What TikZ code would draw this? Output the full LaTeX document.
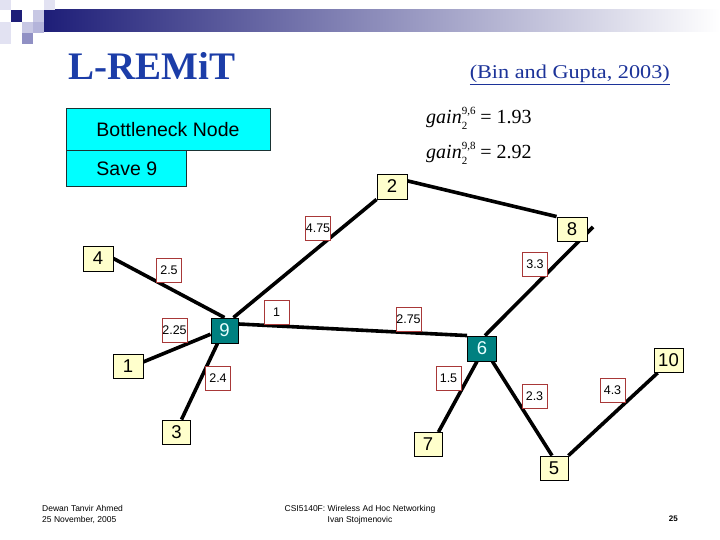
\documentclass[tikz,border=0pt]{standalone}
\usepackage{fontspec}
\usepackage{graphicx}
\setmainfont{Liberation Sans}
\newfontfamily\seriffont{Liberation Serif}
\usetikzlibrary{calc,backgrounds}
\pgfdeclarelayer{back}
\pgfsetlayers{back,background,main}
\definecolor{navy}{HTML}{1E1E78}
\definecolor{nodeyellow}{HTML}{FFFFCC}
\definecolor{tealnode}{HTML}{008080}
\definecolor{nodetext}{HTML}{E8FFFF}
\definecolor{labred}{HTML}{A83838}
\definecolor{boxcyan}{HTML}{00FFFF}
\definecolor{boxborder}{HTML}{1A3333}
\definecolor{titleblue}{HTML}{1C3DA8}
\definecolor{citeblue}{HTML}{1C3399}
\definecolor{sqA}{HTML}{E2E2F2}
\definecolor{sqB}{HTML}{C8C8E4}
\definecolor{sqC}{HTML}{B4B4DA}
\definecolor{sqD}{HTML}{9090C4}
\newcommand\gainexpr[2]{{\itshape gain}\rlap{\raisebox{9pt}{\fontsize{11}{11}\selectfont #1}}\raisebox{-6pt}{\fontsize{11}{11}\selectfont 2}\hspace{13pt}= #2}
\begin{document}
\begin{tikzpicture}[x=1pt,y=-1pt,
  ynode/.style={draw=black,line width=0.9pt,fill=nodeyellow,minimum width=29pt,minimum height=24pt,inner sep=0pt,font=\fontsize{18.5}{18.5}\selectfont},
  tnode/.style={ynode,fill=tealnode,text=nodetext},
  wlab/.style={draw=labred,line width=0.8pt,fill=white,minimum width=25pt,minimum height=24pt,inner sep=0pt,font=\fontsize{12.5}{13}\selectfont},
  conn/.style={line width=3.6pt,black},
  cbox/.style={draw=boxborder,line width=0.9pt,fill=boxcyan,inner sep=0pt,anchor=north west,font=\fontsize{19.5}{20}\selectfont},
  foot/.style={inner sep=0pt,font=\fontsize{8.5}{11}\selectfont}]
\begin{pgfonlayer}{back}
\fill[white] (0,0) rectangle (720,540);
\end{pgfonlayer}
\useasboundingbox (0,0) rectangle (720,540);
% header decoration
\shade[left color=navy,right color=white] (44,10) rectangle (720,32);
\fill[sqA] (0,0) rectangle (11,10);
\fill[navy] (11,10) rectangle (22,22);
\fill[sqA] (44,0) rectangle (55,10);
\fill[sqB] (33,10) rectangle (44,22);
\fill[sqB] (22,22) rectangle (33,33);
\fill[sqC] (33,22) rectangle (44,33);
\fill[sqD] (22,33) rectangle (33,44);
\fill[sqA] (0,22) rectangle (11,44);
% titles
\node[anchor=base west,inner sep=0pt,text=titleblue,font=\seriffont\bfseries\fontsize{39}{39}\selectfont] (title) at (68,80) {L-REMiT};
\node[anchor=base east,inner sep=0pt,text=citeblue,font=\seriffont\fontsize{19.5}{20}\selectfont] (cite) at (670,79) {\scalebox{1.14}[1]{\underline{(Bin and Gupta, 2003)}}};
% boxes
\node[cbox,minimum height=42pt] (bn) at (66,108) {\makebox[204pt][l]{\hspace{30pt}Bottleneck Node}};
\node[cbox,minimum height=36pt] (sv) at (66,150) {\makebox[120pt][l]{\hspace{30pt}Save 9}};
% gains
\node[anchor=base west,inner sep=0pt,font=\seriffont\fontsize{20}{20}\selectfont] (g1) at (426,124) {\gainexpr{9,6}{1.93}};
\node[anchor=base west,inner sep=0pt,font=\seriffont\fontsize{20}{20}\selectfont] (g2) at (426,159) {\gainexpr{9,8}{2.92}};
% nodes
\node[ynode,minimum width=30pt,minimum height=25pt] (n2) at (392,186.5) {2};
\node[ynode,minimum width=30pt] (n8) at (572,229) {8};
\node[ynode,minimum width=30pt,minimum height=25pt] (n4) at (98,258.5) {4};
\node[tnode,minimum width=27pt,minimum height=25pt] (n9) at (224.5,330.5) {9};
\node[ynode,minimum width=30pt] (n1) at (128,366) {1};
\node[tnode,minimum width=29pt,minimum height=25pt] (n6) at (482,348.5) {6};
\node[ynode] (n10) at (668.5,360.5) {10};
\node[ynode,minimum width=28pt] (n3) at (176.5,432) {3};
\node[ynode,minimum width=28pt] (n7) at (428,444.5) {7};
\node[ynode,minimum width=28pt] (n5) at (554,468) {5};
\coordinate (c8) at (593,227);
% weights
\node[wlab] (w475) at (318,228) {4.75};
\node[wlab] (w25) at (169,270) {2.5};
\node[wlab] (w1) at (276.5,312.5) {1};
\node[wlab] (w225) at (174.5,330.5) {2.25};
\node[wlab] (w24) at (218,378.5) {2.4};
\node[wlab] (w33) at (535,264.5) {3.3};
\node[wlab] (w275) at (408.5,319) {2.75};
\node[wlab] (w15) at (448.5,378.5) {1.5};
\node[wlab] (w23) at (534.5,396.5) {2.3};
\node[wlab] (w43) at (612.5,390.5) {4.3};
% edges
\begin{scope}[on background layer]
\draw[conn] (n4.east) -- (n9.north);
\draw[conn] ([xshift=-5pt]n9.north east) -- (n2.south west);
\draw[conn] (n2.20) -- (n8.north west);
\draw[conn] (c8) -- ([xshift=3pt]n6.north);
\draw[conn] (n9.25) -- (n6.north west);
\draw[conn] (n9.195) -- (n1.15);
\draw[conn] ([xshift=-7pt]n9.south) -- ([xshift=5pt]n3.north);
\draw[conn] ([xshift=-5pt]n6.south) -- ([xshift=-4pt]n7.north east);
\draw[conn] ([xshift=-4.5pt]n6.south east) -- ([xshift=-2pt]n5.north);
\draw[conn] ([xshift=4pt]n10.south west) -- (n5.north east);
\end{scope}
% footer
\node[foot,anchor=north west,align=left] (fl) at (42,505) {Dewan Tanvir Ahmed\\25 November, 2005};
\node[foot,anchor=north,align=center] (fc) at (360,505) {CSI5140F: Wireless Ad Hoc Networking\\Ivan Stojmenovic};
\node[inner sep=0pt,anchor=base east,font=\bfseries\fontsize{8}{8}\selectfont] (pg) at (678,521) {25};
\end{tikzpicture}
\end{document}
